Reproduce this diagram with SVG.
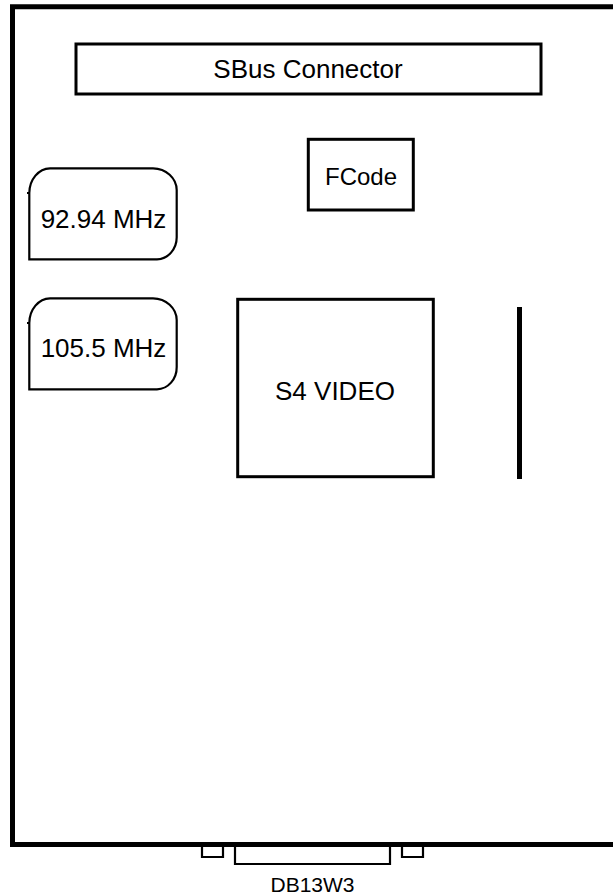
<svg xmlns="http://www.w3.org/2000/svg" width="613" height="896" viewBox="0 0 613 896">
<style>
.b{fill:none;stroke:#000;stroke-width:3}
.o{fill:none;stroke:#000;stroke-width:2.2}
.t{font-family:"Liberation Sans",Arial,sans-serif;fill:#000;text-anchor:middle}
</style>
<defs>
<path id="osc" d="M29.3,259.3 V193 A21,25 0 0 1 50,168.3 H153 A24,22 0 0 1 176.7,190 V237 A20,22 0 0 1 157,259.3 Z M27,193 H29.3"/>
</defs>
<rect width="613" height="896" fill="#fff"/>
<g id="board"><path d="M620,6.8 H12.5 V844.5 H620" fill="none" stroke="#000" stroke-width="5"/></g>
<g id="sbus"><rect class="b" x="76" y="44" width="465" height="50"/><text class="t" x="308" y="78" font-size="26">SBus Connector</text></g>
<g id="fcode"><rect class="b" x="308.3" y="139.3" width="105" height="70.7"/><text class="t" x="361" y="185" font-size="24">FCode</text></g>
<g id="osc1"><use href="#osc" class="o"/><text class="t" x="103.5" y="228" font-size="26">92.94 MHz</text></g>
<g id="osc2"><use href="#osc" class="o" transform="translate(0,130)"/><text class="t" x="103.5" y="357" font-size="26">105.5 MHz</text></g>
<g id="s4"><rect class="b" x="237.7" y="299.3" width="195.6" height="177.4"/><text class="t" x="335" y="400" font-size="26">S4 VIDEO</text></g>
<g id="bar"><line x1="519.5" y1="307" x2="519.5" y2="479" stroke="#000" stroke-width="5"/></g>
<g id="db13w3"><path class="o" d="M202,844 V857 H223 V844 M235,844 V864 H390 V844 M402,844 V857 H423 V844"/><text class="t" x="312.5" y="892" font-size="21">DB13W3</text></g>
</svg>
